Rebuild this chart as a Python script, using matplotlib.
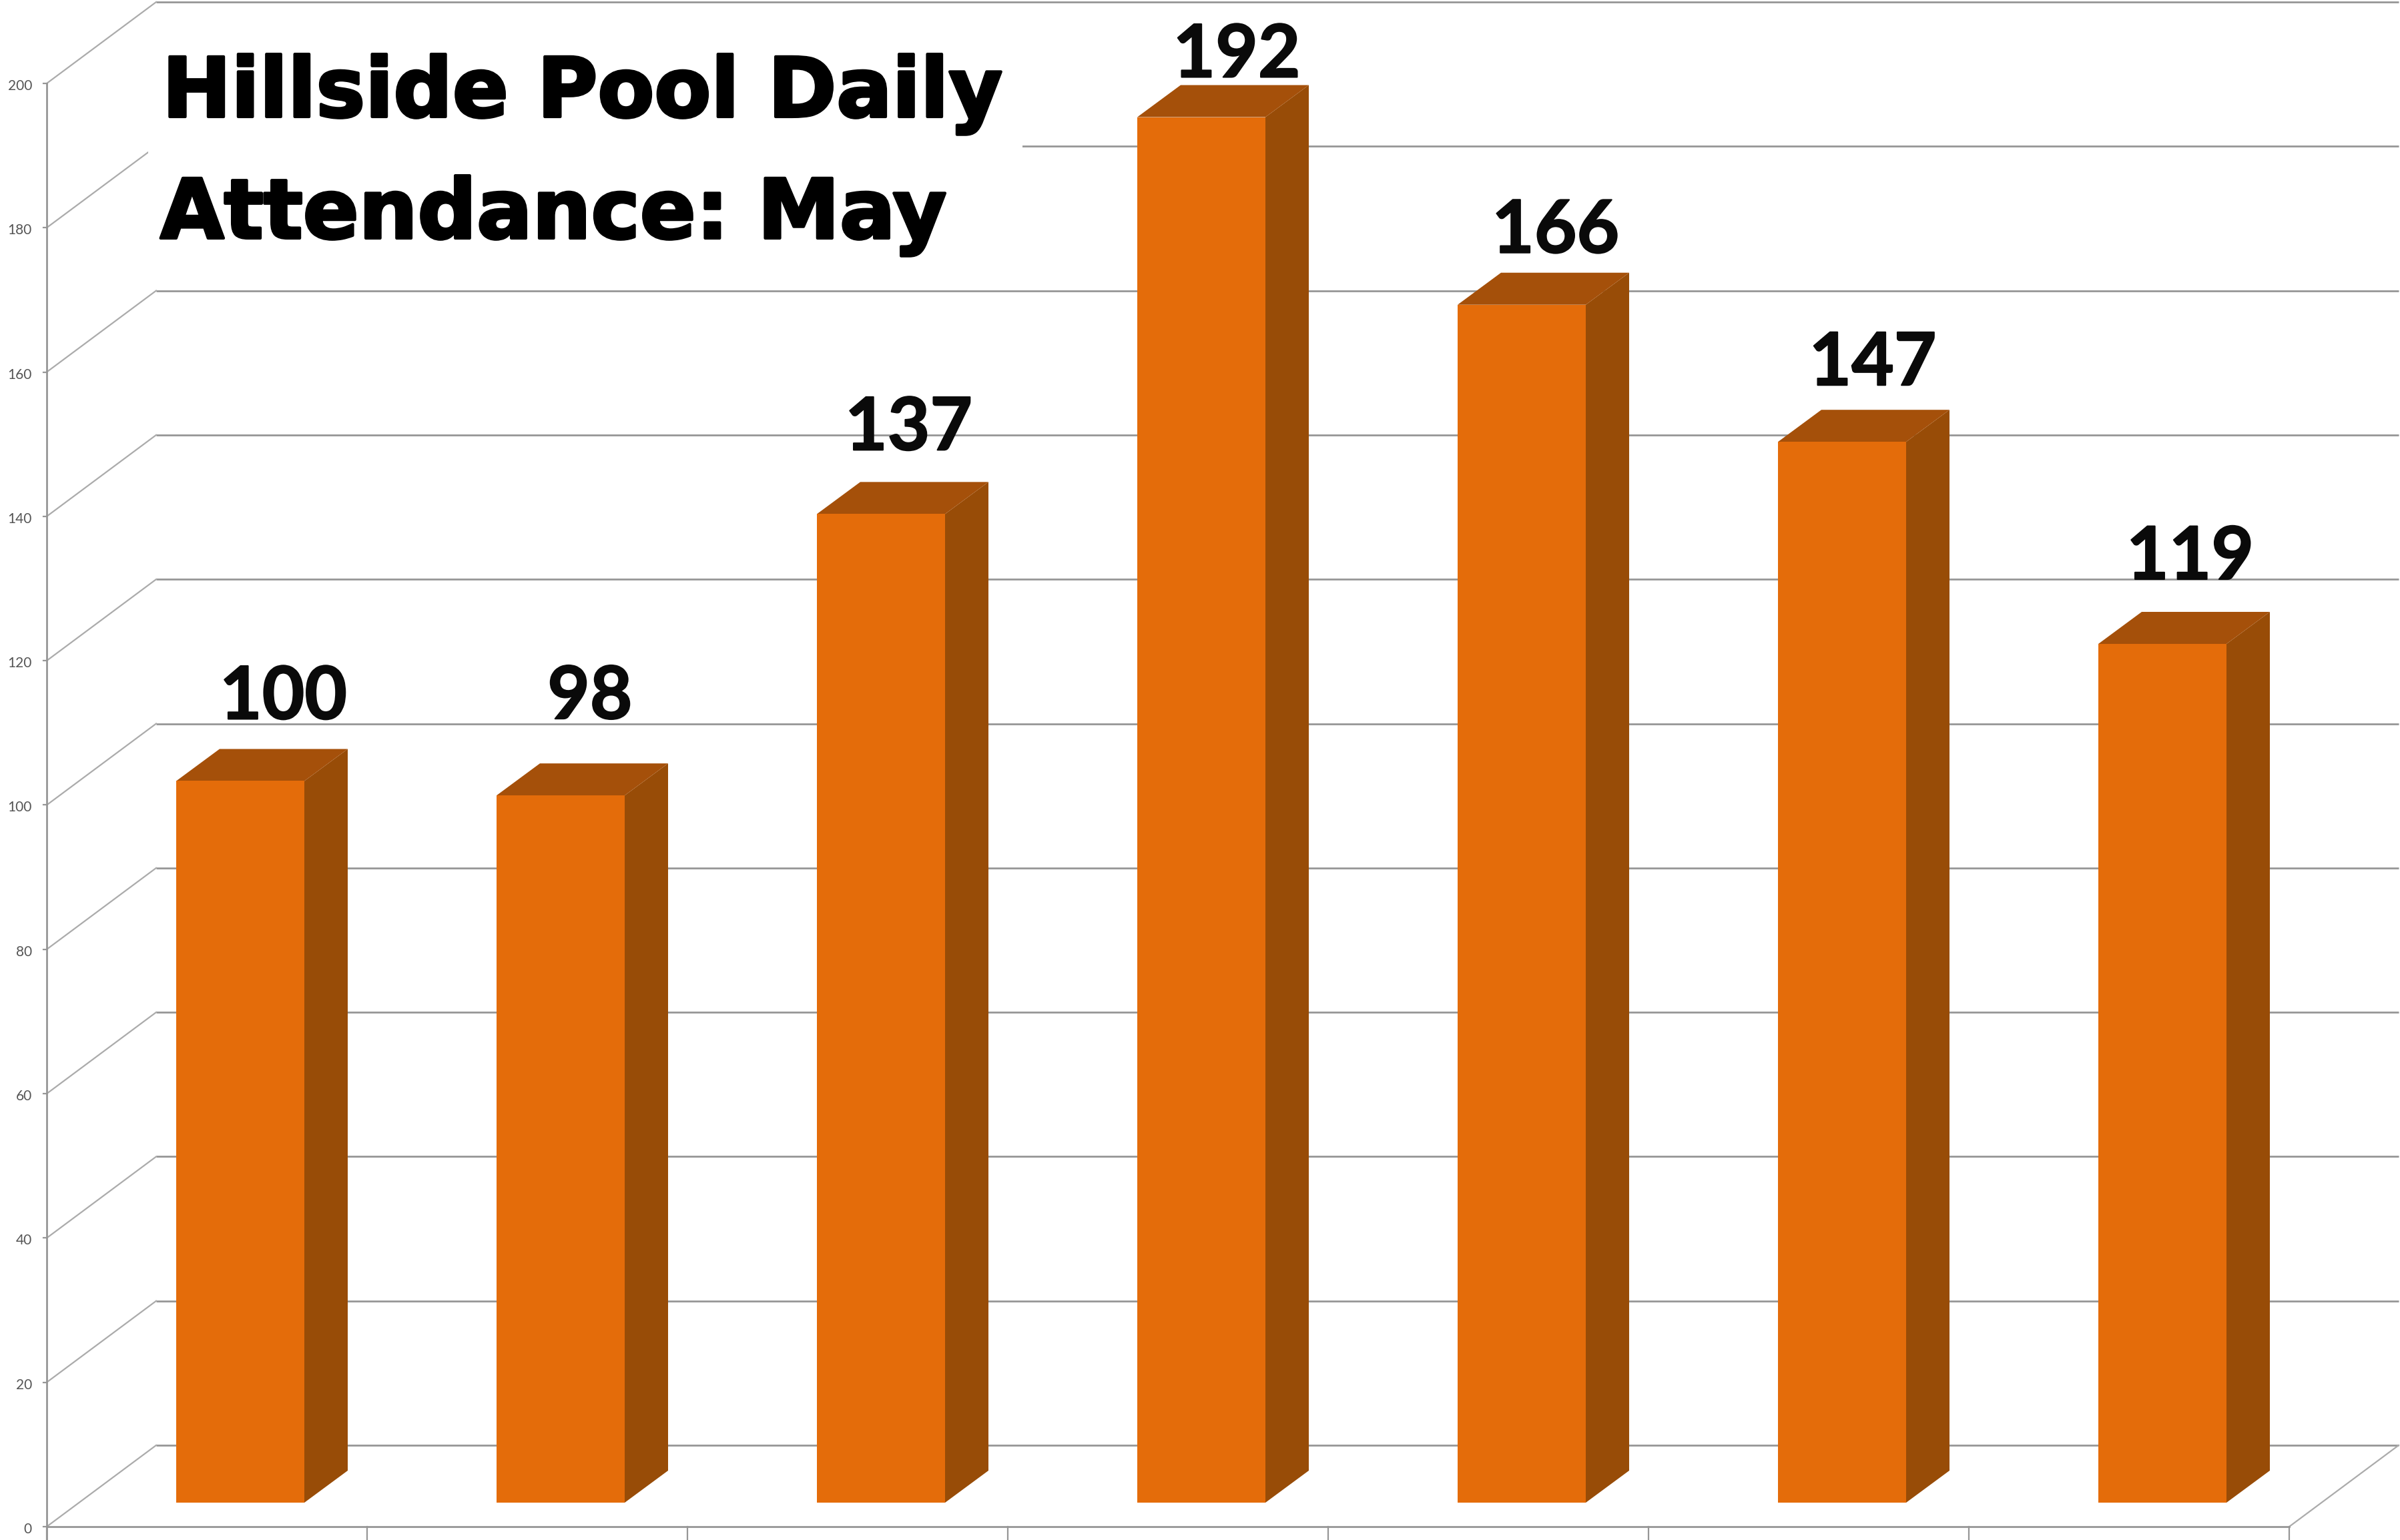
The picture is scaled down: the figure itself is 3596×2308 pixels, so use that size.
import matplotlib
matplotlib.use("Agg")
import matplotlib.pyplot as plt
from matplotlib.patches import Polygon, Rectangle
import matplotlib.patheffects as pe

# data
days = ["1", "2", "3", "4", "5", "6", "7"]
attendance = [100, 98, 137, 192, 166, 147, 119]
y_ticks = [0, 20, 40, 60, 80, 100, 120, 140, 160, 180, 200]
title_lines = ["Hillside Pool Daily", "Attendance: May"]

# layout (pixels of the 3596x2308 canvas turned into data units)
W, H = 3596, 2308
PXC = 480.0      # px per category
PXV = 10.815     # px per value unit
X0, Y0 = 70, 2252
label_dx = [70, 61, 60, 65, 64, 62, 60]
label_gap = [93, 115, 96, 60, 78, 85, 97]

FRONT = "#E46C0A"; SIDE = "#984C07"; TOP = "#A5500A"
GRID = "#969696"; TXT = "#555555"

fig = plt.figure(figsize=(W/100, H/100), dpi=100, facecolor="white")
ax = fig.add_axes([0, 0, 1, 1])
ax.set_xlim(-X0/PXC, (W-X0)/PXC)
ax.set_ylim(-(H-Y0)/PXV, Y0/PXV)
ax.axis("off")

dx = lambda p: p/PXC
dy = lambda p: p/PXV
floor = dy(-36)         # front edge of the floor, relative to the bars' baseline
wall = dy(86)           # back wall, relative to the bars' baseline
depth = dx(164)
LW = 2.0

# back wall grid and side wall diagonals
for t in y_ticks:
    ax.plot([depth, 7+depth], [wall+t, wall+t], color=GRID, lw=LW, zorder=1, solid_capstyle="butt")
    ax.plot([0, depth], [floor+t, wall+t], color="#ABABAB", lw=LW*0.8, zorder=1)
    ax.plot([dx(-5), 0], [floor+t, floor+t], color=GRID, lw=LW*0.8, zorder=1)
    ax.text(dx(-22), floor+t-dy(4), str(t), ha="right", va="center", fontsize=15,
            family="Lato", color=TXT, zorder=5)
# floor right edge and axes
ax.plot([7, 7+depth], [floor, wall], color="#ABABAB", lw=LW*0.8, zorder=1)
ax.plot([0, 0], [dy(-60), floor+200], color=GRID, lw=LW, zorder=2)
ax.plot([0, 7], [floor, floor], color=GRID, lw=LW, zorder=2)
for i in range(8):
    ax.plot([i, i], [dy(-60), floor], color=GRID, lw=LW*0.8, zorder=2)

# white plate behind the title hides the grid
ax.add_patch(Rectangle((dx(222-X0), (Y0-400)/PXV), dx(1532-222), 370/PXV,
                       facecolor="white", edgecolor="none", zorder=3))

bar_off, bar_w = dx(194), dx(192)
bd_x, bd_y = dx(65), dy(48)
for i, v in enumerate(attendance):
    l = i + bar_off; r = l + bar_w
    ax.add_patch(Polygon([(r, 0), (r+bd_x, bd_y), (r+bd_x, v+bd_y), (r, v)],
                         facecolor=SIDE, edgecolor="none", zorder=6))
    ax.add_patch(Polygon([(l, v), (r, v), (r+bd_x, v+bd_y), (l+bd_x, v+bd_y)],
                         facecolor=TOP, edgecolor="none", zorder=6))
    ax.add_patch(Rectangle((l, 0), bar_w, v, facecolor=FRONT, edgecolor="none", zorder=7))
    ax.text(l+dx(label_dx[i]*2.293), v+dy(label_gap[i]), str(v), ha="center", va="baseline",
            fontsize=79, family="Lato", fontweight="bold", color="#0a0a0a", zorder=8,
            path_effects=[pe.withStroke(linewidth=1.5, foreground="#0a0a0a")])

# title
for line, bx, by in zip(title_lines, [243, 240], [175, 357]):
    ax.text(dx(bx-X0), (Y0-by)/PXV, line, ha="left", va="baseline", fontsize=89,
            family="DejaVu Sans", fontweight="bold", color="black", zorder=8,
            path_effects=[pe.withStroke(linewidth=3, foreground="black")])

fig.savefig("out.png", dpi=100, facecolor="white")
